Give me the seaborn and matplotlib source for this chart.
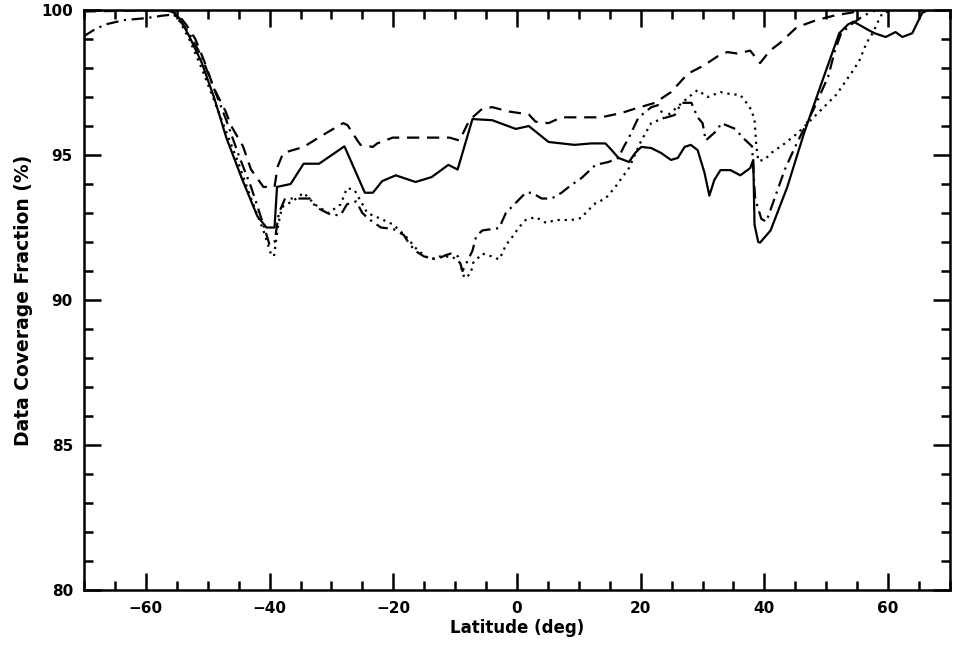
import numpy as np
import pandas as pd
import matplotlib
matplotlib.use("Agg")
import matplotlib.pyplot as plt
import seaborn as sns
from matplotlib.ticker import MultipleLocator

# ---- data ----
solid_lat = [-70, -56, -54.5, -53, -51, -49, -47, -44.5, -42, -40.5, -39.2, -38.8, -36.6, -34.5, -32, -27.9,
             -24.6, -23.3, -21.8, -19.6, -16.4, -13.8, -11.1, -9.6, -8.5, -7.2, -4.0, -0.2, 1.9, 5.1, 9.3, 12.0,
             14.3, 15.3, 16.4, 18.1, 19.1, 20.1, 21.7, 23.3, 24.9, 26.0, 27.1, 28.1, 29.2, 30.3, 31.1, 31.9, 32.9,
             34.5, 36.1, 37.7, 38.2, 38.4, 39.0, 39.3, 41.0, 43.7, 46.4, 49.6, 52.1, 53.5, 54.4, 56.9, 57.8, 59.6,
             61.2, 62.3, 63.9, 65.5, 66.5, 70]
solid_val = [100, 100, 99.7, 99.1, 98.2, 97.0, 95.6, 94.2, 92.9, 92.5, 92.5, 93.9, 94.0, 94.7, 94.7, 95.3,
             93.7, 93.7, 94.1, 94.3, 94.07, 94.24, 94.66, 94.5, 95.3, 96.24, 96.2, 95.9, 96.0, 95.45, 95.35, 95.4,
             95.4, 95.17, 94.9, 94.76, 95.07, 95.28, 95.24, 95.07, 94.83, 94.9, 95.28, 95.35, 95.17, 94.4, 93.6, 94.14,
             94.48, 94.48, 94.3, 94.55, 94.83, 92.6, 92.0, 91.98, 92.4, 93.9, 95.75, 97.7, 99.2, 99.5, 99.6, 99.3,
             99.2, 99.07, 99.24, 99.07, 99.2, 99.9, 100, 100]

dashed_lat = [-70, -57, -55, -53.5, -52, -50.5, -49, -47.1, -46.2, -44.3, -43, -41, -39.2, -38.7, -37.8,
              -34.5, -31.3, -28.1, -27.4, -25.8, -25.3, -23.3, -22.6, -20.1, -16.9, -13.6, -10.9, -9.3, -7.7,
              -5.6, -4.0, -1.3, 1.9, 3.0, 5.1, 7.2, 10.4, 13.6, 16.9, 19.1, 22.3, 24.9, 27.6, 30.3, 32.4, 34.0,
              35.6, 37.7, 39.3, 40.9, 42.5, 45.2, 48.5, 51.7, 53.8, 56, 70]
dashed_val = [99.95, 100, 99.9, 99.5, 99.0, 98.2, 97.3, 96.5, 96.0, 95.3, 94.5, 93.9, 93.9, 94.6, 95.07,
              95.28, 95.7, 96.1, 96.03, 95.5, 95.35, 95.28, 95.4, 95.6, 95.6, 95.6, 95.6, 95.5, 96.2,
              96.6, 96.65, 96.5, 96.4, 96.15, 96.1, 96.3, 96.3, 96.3, 96.45, 96.6, 96.8, 97.17, 97.8, 98.1, 98.4, 98.55,
              98.5, 98.6, 98.17, 98.6, 98.86, 99.4, 99.66, 99.83, 99.9, 100, 100]

dashdot_lat = [-70, -68.5, -66.6, -63.6, -60, -57.5, -55.5, -54, -53, -51, -49, -47, -45, -43, -41, -40,
               -39.2, -38.5, -37.5, -35, -33.5, -32.5, -30, -28.5, -27.5, -26, -25, -24, -22, -20, -18.3,
               -17.6, -16.5, -15, -13, -11.5, -10.7, -9.5, -8.8, -7.2, -6.6, -5.6, -2.9, -1.8, -0.2, 1.4, 2.4,
               4.0, 5.6, 7.2, 8.8, 10.4, 12.7, 14.8, 16.4, 17.3, 18.1, 19.6, 21.7, 22.8, 23.9, 25.5, 26.6, 28.2,
               29.2, 30.0, 30.5, 32.4, 33.0, 35.3, 36.5, 38.0, 38.5, 39.5, 40.3, 41.3, 43.3, 45, 48, 50.3, 51.4,
               52.4, 54, 56, 58, 70]
dashdot_val = [99.1, 99.3, 99.5, 99.65, 99.72, 99.8, 99.85, 99.5, 99.2, 98.4, 97.3, 96.2, 95.0, 93.9, 92.6, 91.9,
               92.0, 93.0, 93.5, 93.5, 93.5, 93.2, 92.93, 92.93, 93.3, 93.4, 93.0, 92.8, 92.5, 92.45, 92.24,
               92.0, 91.7, 91.5, 91.4, 91.55, 91.6, 91.5, 91.0, 91.7, 92.2, 92.4, 92.48, 93.0, 93.35, 93.7, 93.7,
               93.5, 93.5, 93.7, 93.97, 94.2, 94.66, 94.76, 94.9, 95.3, 95.6, 96.28, 96.65, 96.72, 96.28, 96.38, 96.8, 96.8,
               96.3, 96.1, 95.5, 95.86, 96.1, 95.9, 95.6, 95.3, 93.5, 92.8, 92.7, 93.3, 94.5, 95.3, 96.6, 97.7, 98.6,
               99.2, 99.5, 99.8, 100, 100]

dotted_lat = [-70, -56, -54.5, -53, -51, -49, -47, -45, -43, -41, -39.8, -39.3, -38.6, -38, -36, -34.5,
              -32.7, -30.5, -28.5, -27.5, -26.3, -25.5, -24.2, -22, -20, -18, -16, -14, -12.5, -10.5, -9.3,
              -8.5, -7.5, -7.1, -5.6, -4.0, -2.9, -2.4, -1.8, -1.0, 0.3, 1.4, 3.0, 4.7, 6.3, 8.8, 10.4, 11.2,
              12.7, 14.3, 15.9, 16.9, 18.1, 20.1, 21.7, 24.0, 27.6, 29.2, 30.8, 32.9, 34.5, 36.1, 37.1, 37.9,
              38.4, 38.7, 39.0, 40.0, 41.1, 43.3, 45.4, 47.5, 49.6, 51.7, 53.3, 54.4, 55.4, 56.5, 57.5, 58.5,
              59.1, 61, 70]
dotted_val = [100, 100, 99.6, 99.0, 98.0, 96.9, 95.8, 94.7, 93.5, 92.4, 91.6, 91.5, 92.6, 93.2, 93.45, 93.7,
              93.3, 93.0, 93.3, 93.86, 93.8, 93.5, 93.0, 92.8, 92.6, 92.2, 91.7, 91.4, 91.5, 91.5, 91.3,
              90.76, 90.9, 91.28, 91.6, 91.5, 91.4, 91.6, 91.9, 92.1, 92.5, 92.76, 92.86, 92.66, 92.76, 92.76, 92.83, 93.03,
              93.34, 93.5, 93.9, 94.2, 94.55, 95.5, 96.1, 96.3, 96.97, 97.24, 97.0, 97.17, 97.1, 97.07, 96.8, 96.55,
              96.2, 95.3, 94.8, 94.83, 95.07, 95.4, 95.76, 96.2, 96.65, 97.1, 97.6, 97.93, 98.28, 98.86, 99.2, 99.66,
              99.9, 100, 100]

x_ticks = [-60, -40, -20, 0, 20, 40, 60]
y_ticks = [80, 85, 90, 95, 100]

# ---- plotting ----
sns.set_style("ticks")
plt.rcParams['font.family'] = ['DejaVu Sans']
plt.rcParams['text.color'] = 'black'
plt.rcParams['axes.labelcolor'] = 'black'
plt.rcParams['xtick.color'] = 'black'
plt.rcParams['ytick.color'] = 'black'

fig = plt.figure(figsize=(9.56, 6.55), dpi=100)
ax = fig.add_axes([0.0879, 0.0992, 0.9058, 0.8855])

series = [
    (solid_lat, solid_val, "-"),
    (dashed_lat, dashed_val, (0, (5.5, 3.5))),
    (dashdot_lat, dashdot_val, (0, (5.5, 2.5, 1, 2.5))),
    (dotted_lat, dotted_val, (0, (1, 2.2))),
]
for lat, val, ls in series:
    df = pd.DataFrame({"lat": lat, "val": val})
    sns.lineplot(data=df, x="lat", y="val", ax=ax, color="black", linewidth=1.6,
                 linestyle=ls, sort=False, estimator=None)

ax.set_xlim(-70, 70)
ax.set_ylim(80, 100)
ax.set_xticks(x_ticks)
ax.set_yticks(y_ticks)
ax.set_xticklabels([f"\u2212{abs(t)}" if t < 0 else str(t) for t in x_ticks])
ax.set_yticklabels([str(t) for t in y_ticks])
ax.xaxis.set_minor_locator(MultipleLocator(5))
ax.yaxis.set_minor_locator(MultipleLocator(1))
ax.tick_params(which="both", direction="in", top=True, right=True, width=1.8,
               color="black", labelcolor="black")
ax.tick_params(which="major", length=12, labelsize=11, pad=8)
ax.tick_params(which="minor", length=6.5)
for lab in ax.get_xticklabels() + ax.get_yticklabels():
    lab.set_fontweight("bold")
for sp in ax.spines.values():
    sp.set_linewidth(1.8)
    sp.set_color("black")

ax.set_xlabel("Latitude (deg)", fontsize=12, fontweight="bold", labelpad=2, color="black")
ax.set_ylabel("Data Coverage Fraction (%)", fontsize=13.5, fontweight="bold", labelpad=6, color="black")

fig.savefig("out.png", dpi=100)
